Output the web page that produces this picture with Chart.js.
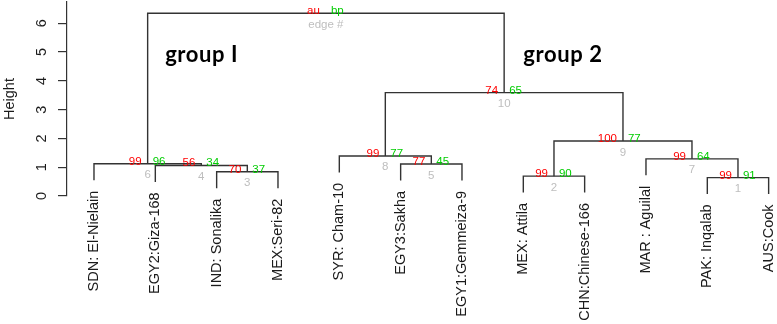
<!DOCTYPE html>
<html>
<head>
<meta charset="utf-8">
<title>Dendrogram with AU/BP values</title>
<script src="https://cdn.jsdelivr.net/npm/chart.js@4.4.1/dist/chart.umd.min.js"></script>
<style>
  html, body { margin: 0; padding: 0; background: #ffffff; }
  #wrap { width: 777px; height: 324px; }
</style>
</head>
<body>
<div id="wrap"><canvas id="chart" width="777" height="324"></canvas></div>
<script>
// Cultivar names in dendrogram order (leaf 1 .. 12, left to right)
const leafLabels = [
  'SDN: El-Nielain', 'EGY2:Giza-168', 'IND: Sonalika', 'MEX:Seri-82',
  'SYR: Cham-10', 'EGY3:Sakha', 'EGY1:Gemmeiza-9', 'MEX: Attila',
  'CHN:Chinese-166', 'MAR : Aguilal', 'PAK: Inqalab', 'AUS:Cook'
];

// hclust-style merge table: negative = leaf number, positive = earlier merge (edge #)
const mergeLeft   = [-11, -8, -3, -2, -6, -1, -10, -5, 2, 8, 6];
const mergeRight  = [-12, -9, -4,  3, -7,  4,   1,  5, 7, 9, 10];
const mergeHeight = [0.64, 0.69, 0.84, 1.06, 1.11, 1.12, 1.29, 1.39, 1.91, 3.59, 6.35];

// p-values (%) per edge; the root carries the key text instead
const auValues   = ['99', '99', '70', '56', '77', '99', '99', '99', '100', '74', 'au'];
const bpValues   = ['91', '90', '37', '34', '45', '96', '64', '77', '77', '65', 'bp'];
const edgeLabels = ['1', '2', '3', '4', '5', '6', '7', '8', '9', '10', 'edge #'];

// Height axis ticks
const yTicks = [0, 1, 2, 3, 4, 5, 6];

// Cluster annotations (x in leaf units, y in height units)
const groupLabels = ['group I', 'group 2'];
const groupX = [2.16, 8.0];
const groupY = [4.66, 4.66];

// Leaves hang this far below their parent merge
const HANG = 0.57;

const COLORS = { line: '#333333', au: '#ff0000', bp: '#00cd00', edge: '#bebebe', text: '#1a1a1a' };
const TEXT_FONT = '"Liberation Sans", Arial, sans-serif';

// --- build node geometry from the merge table ---
const leafTip = new Array(leafLabels.length).fill(0);
const mergeX = [];
function childX(ref) { return ref < 0 ? -ref : mergeX[ref - 1]; }
mergeLeft.forEach((l, k) => {
  const r = mergeRight[k];
  [l, r].forEach(c => { if (c < 0) leafTip[-c - 1] = mergeHeight[k] - HANG; });
  mergeX.push((childX(l) + childX(r)) / 2);
});
function childY(ref) { return ref < 0 ? leafTip[-ref - 1] : mergeHeight[ref - 1]; }

// one bracket (left leg, bar, right leg) per merge
const datasets = mergeLeft.map((l, k) => {
  const r = mergeRight[k], h = mergeHeight[k];
  return {
    data: [
      { x: childX(l), y: childY(l) },
      { x: childX(l), y: h },
      { x: childX(r), y: h },
      { x: childX(r), y: childY(r) }
    ],
    showLine: true,
    borderColor: COLORS.line,
    borderWidth: 1.4,
    pointRadius: 0,
    tension: 0,
    fill: false
  };
});

const annotate = {
  id: 'annotate',
  afterDraw(chart) {
    const { ctx, scales: { x, y } } = chart;
    ctx.save();

    // leaf names, rotated, hanging under each leaf tip
    ctx.fillStyle = COLORS.text;
    ctx.font = '14.5px ' + TEXT_FONT;
    ctx.textAlign = 'right';
    ctx.textBaseline = 'middle';
    leafLabels.forEach((name, i) => {
      const px = x.getPixelForValue(i + 1);
      const py = y.getPixelForValue(leafTip[i]) + 10.5;
      ctx.save();
      ctx.translate(px, py);
      ctx.rotate(-Math.PI / 2);
      ctx.fillText(name, 0, 0);
      ctx.restore();
    });

    // Height tick labels, parallel to the axis
    ctx.textAlign = 'center';
    yTicks.forEach(v => {
      const py = y.getPixelForValue(v);
      ctx.save();
      ctx.translate(42, py);
      ctx.rotate(-Math.PI / 2);
      ctx.fillText(String(v), 0, 0);
      ctx.restore();
    });

    // au / bp / edge numbers at each merge
    ctx.font = '11.5px ' + TEXT_FONT;
    ctx.textBaseline = 'alphabetic';
    mergeX.forEach((mx, k) => {
      const px = x.getPixelForValue(mx);
      const py = y.getPixelForValue(mergeHeight[k]);
      ctx.fillStyle = COLORS.au;
      ctx.textAlign = 'right';
      ctx.fillText(auValues[k], px - 6, py + 1);
      ctx.fillStyle = COLORS.bp;
      ctx.textAlign = 'left';
      ctx.fillText(bpValues[k], px + 5, py + 1);
      ctx.fillStyle = COLORS.edge;
      ctx.textAlign = 'center';
      ctx.fillText(edgeLabels[k], px, py + 14.5);
    });

    // cluster names
    ctx.fillStyle = '#000000';
    ctx.font = 'bold 22px Lato, "Open Sans", sans-serif';
    if ('letterSpacing' in ctx) ctx.letterSpacing = '0.6px';
    ctx.textAlign = 'left';
    groupLabels.forEach((g, i) => {
      ctx.fillText(g, x.getPixelForValue(groupX[i]), y.getPixelForValue(groupY[i]));
    });

    ctx.restore();
  }
};

new Chart(document.getElementById('chart'), {
  type: 'scatter',
  data: { datasets },
  options: {
    responsive: false,
    animation: false,
    events: [],
    layout: { padding: { left: 1.3, top: 2, right: 1, bottom: 128 } },
    plugins: { legend: { display: false }, tooltip: { enabled: false } },
    scales: {
      x: { type: 'linear', display: false, min: 0.56, max: 12.12 },
      y: {
        type: 'linear',
        position: 'left',
        min: 0,
        max: 6.74,
        border: { display: true, color: COLORS.line, width: 1.2 },
        grid: { display: true, drawOnChartArea: false, drawTicks: true, tickLength: 9, color: COLORS.line, lineWidth: 1.2 },
        ticks: { display: false, stepSize: 1, includeBounds: false },
        title: {
          display: true,
          text: 'Height',
          color: COLORS.text,
          font: { family: TEXT_FONT, size: 14.5 },
          padding: { top: 0, bottom: 39.3 }
        }
      }
    }
  },
  plugins: [annotate]
});
</script>
</body>
</html>
